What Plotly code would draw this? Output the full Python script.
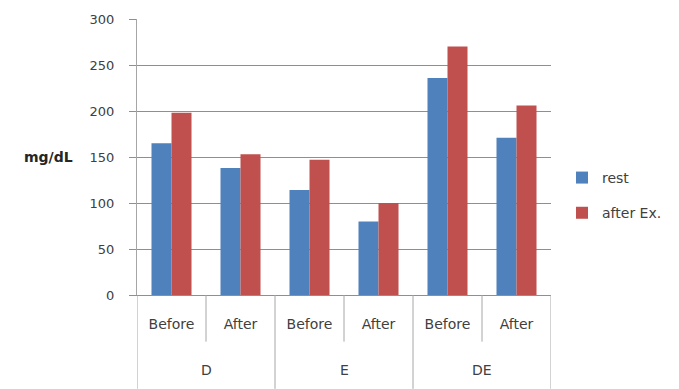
import plotly.graph_objects as go

groups = ["D", "E", "DE"]
phases = ["Before", "After", "Before", "After", "Before", "After"]
rest = [165, 138, 114, 80, 236, 171]
after_ex = [198, 153, 147, 100, 270, 206]
yticks = [0, 50, 100, 150, 200, 250, 300]

xpos = list(range(len(phases)))
blue = "#4F81BD"
red = "#C0504D"
grid = "#8f8f8f"
txt = "#404040"
font = "DejaVu Sans"

fig = go.Figure()
fig.add_trace(go.Bar(x=xpos, y=rest, name="rest", marker_color=blue,
                     marker_line_width=0, legendgroup="a"))
fig.add_trace(go.Bar(x=xpos, y=after_ex, name="after Ex.", marker_color=red,
                     marker_line_width=0, legendgroup="b"))

shapes = []
# inner dividers between phases within a group
for i in range(len(groups)):
    xm = 2 * i + 0.5
    shapes.append(dict(type="line", xref="x", yref="paper", x0=xm, x1=xm,
                       y0=0, y1=-0.169, line=dict(color="#a6a6a6", width=1)))
# outer dividers between groups
for i in range(len(groups) + 1):
    xb = 2 * i - 0.5
    shapes.append(dict(type="line", xref="x", yref="paper", x0=xb, x1=xb,
                       y0=0, y1=-0.34, line=dict(color="#a6a6a6", width=1)))

annotations = []
for i, g in enumerate(groups):
    annotations.append(dict(x=2 * i + 0.5, xref="x", y=-0.273, yref="paper",
                            text=g, showarrow=False, yanchor="middle",
                            font=dict(family=font, size=14, color=txt)))
annotations.append(dict(x=(22 - 137) / 414, xref="paper", xanchor="left",
                        y=150, yref="y", text="<b>mg/dL</b>", showarrow=False,
                        font=dict(family=font, size=14, color="#262626")))

fig.update_layout(
    width=679, height=389,
    margin=dict(l=137, r=128, t=17, b=94),
    paper_bgcolor="white", plot_bgcolor="white",
    barmode="group", bargap=0.42, bargroupgap=0,
    font=dict(family=font, size=13, color=txt),
    showlegend=True,
    legend=dict(x=1.0266, xanchor="left", y=0.482, yanchor="top",
                tracegroupgap=14, font=dict(family=font, size=14, color=txt),
                itemwidth=30, bgcolor="rgba(0,0,0,0)"),
    xaxis=dict(range=[-0.5, 5.5], tickmode="array", tickvals=xpos,
               ticktext=phases, showgrid=False, zeroline=False,
               showline=True, linecolor=grid, linewidth=1,
               ticks="", ticklabelstandoff=16,
               tickfont=dict(family=font, size=14, color=txt), fixedrange=True),
    yaxis=dict(range=[0, 300], tickmode="array", tickvals=yticks,
               showgrid=True, gridcolor=grid, gridwidth=1, zeroline=False,
               showline=True, linecolor="#a6a6a6", linewidth=1,
               ticks="outside", ticklen=7, tickcolor=grid,
               ticklabelstandoff=12,
               tickfont=dict(family=font, size=13, color=txt), fixedrange=True),
    shapes=shapes,
    annotations=annotations,
)

fig.write_html("out.html")
